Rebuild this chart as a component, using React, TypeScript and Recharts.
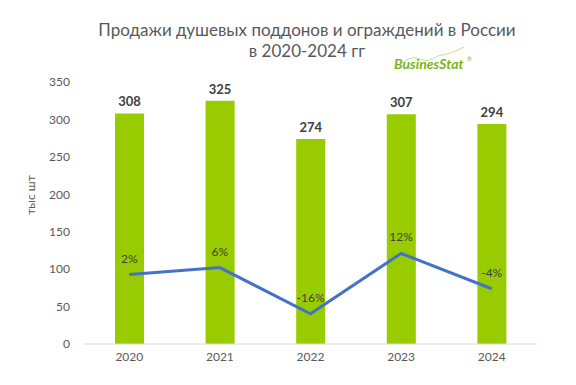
import { Bar, ComposedChart, LabelList, Line, XAxis, YAxis } from "recharts";

const years = ["2020", "2021", "2022", "2023", "2024"];
const sales = [308, 325, 274, 307, 294];
const growth = [2.3, 5.5, -15.7, 12.0, -4.2];
const yTicks = [0, 50, 100, 150, 200, 250, 300, 350];

const data = years.map((year, i) => ({ year, sales: sales[i], growth: growth[i] }));

const font = "Lato, 'Open Sans', sans-serif";

document.body.style.margin = "0";

export default function App() {
  return (
    <div style={{ position: "relative", width: 576, height: 385, background: "#fff", fontFamily: font }}>
      <ComposedChart width={576} height={385} data={data} margin={{ top: 82, right: 39, bottom: 11, left: 0 }}>
        <XAxis
          dataKey="year"
          tickLine={false}
          axisLine={{ stroke: "#d9d9d9" }}
          tick={{ fill: "#595959", fontSize: 12, fontFamily: font }}
        />
        <YAxis
          yAxisId="left"
          width={84}
          domain={[0, 350]}
          ticks={yTicks}
          tickLine={false}
          axisLine={false}
          tickMargin={8}
          tick={{ fill: "#595959", fontSize: 12, fontFamily: font }}
        />
        <YAxis yAxisId="right" orientation="right" hide domain={[-29.5, 90.5]} allowDataOverflow />
        <Bar yAxisId="left" dataKey="sales" fill="#99cc00" barSize={29} isAnimationActive={false}>
          <LabelList
            dataKey="sales"
            position="top"
            offset={7}
            style={{ fill: "#404040", fontSize: 13, fontWeight: 700, fontFamily: font }}
          />
        </Bar>
        <Line
          yAxisId="right"
          dataKey="growth"
          stroke="#4472c4"
          strokeWidth={3}
          dot={false}
          isAnimationActive={false}
        >
          <LabelList
            dataKey="growth"
            position="top"
            offset={12}
            formatter={(v: number) => `${Math.round(v)}%`}
            style={{ fill: "#404040", fontSize: 12, fontFamily: font }}
          />
        </Line>
      </ComposedChart>
      <svg width={576} height={385} style={{ position: "absolute", left: 0, top: 0, pointerEvents: "none" }}>
        <text x={307} y={36} textAnchor="middle" fill="#595959" fontSize={17} fontFamily={font}>
          Продажи душевых поддонов и ограждений в России
        </text>
        <text x={307} y={57} textAnchor="middle" fill="#595959" fontSize={17} fontFamily={font}>
          в 2020-2024 гг
        </text>
        <text
          x={32}
          y={195}
          transform="rotate(-90 32 195)"
          textAnchor="middle"
          dominantBaseline="middle"
          fill="#595959"
          fontSize={12}
          fontFamily={font}
        >
          тыс шт
        </text>
        <path d="M 402 63 Q 412 55 420 59 T 438 56 Q 452 54 464 47" stroke="#c2e09a" strokeWidth={1} fill="none" />
        <text x={394} y={69} fill="#7ab317" fontSize={14} fontWeight={700} fontStyle="italic" fontFamily={font}>
          BusinesStat
        </text>
        <text x={467} y={61} fill="#7ab317" fontSize={6} fontFamily={font}>
          ®
        </text>
      </svg>
    </div>
  );
}
